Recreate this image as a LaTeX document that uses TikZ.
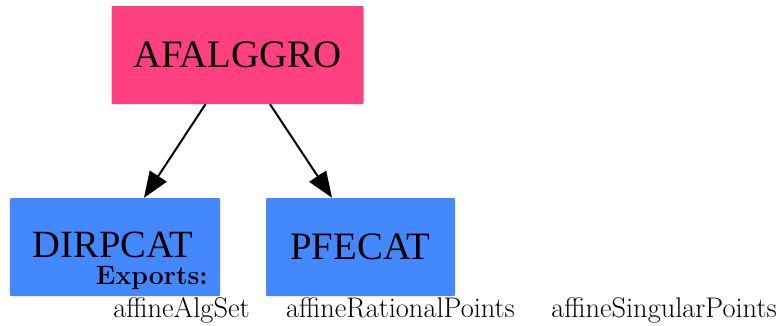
\documentclass[tikz,border=0pt]{standalone}
\usepackage{fontspec}
\newfontfamily\timesfont{Liberation Serif}
\usetikzlibrary{arrows.meta}
\definecolor{gvpink}{RGB}{255,64,128}
\definecolor{gvblue}{RGB}{68,136,255}
\tikzset{
  box/.style={draw=none, rounded corners=1bp, inner sep=0pt, font=\timesfont\fontsize{39}{46}\selectfont},
  pinkbox/.style={box, fill=gvpink},
  bluebox/.style={box, fill=gvblue},
  conn/.style={line width=2bp, -{Triangle[length=26bp,width=20bp]}},
  lbl/.style={inner sep=0pt, anchor=base, font=\fontsize{28.5}{33}\selectfont},
}
\begin{document}
\begin{tikzpicture}[x=1bp,y=-1bp]
\useasboundingbox (0,0) rectangle (783,325);
\node[pinkbox, minimum width=252bp, minimum height=98bp] (top) at (237.5,55) {AFALGGRO};
\node[bluebox, minimum width=210bp, minimum height=98bp] (dir) at (115,247) {};
\node[inner sep=0pt, anchor=base, text depth=0pt, font=\timesfont\fontsize{38.7}{46}\selectfont] (dirt) at (113,257.5) {DIRPCAT};
\node[bluebox, minimum width=189bp, minimum height=98bp] (pfe) at (360.5,247) {PFECAT};
\node[lbl, anchor=base east, text height=18bp, font=\bfseries\fontsize{26.7}{31}\selectfont] (exp) at (208,284) {Exports:};
\node[lbl] (e1) at (181.5,317) {affineAlgSet};
\node[lbl] (e2) at (400.5,317) {affineRationalPoints};
\node[lbl] (e3) at (664,317) {affineSingularPoints};
\draw[conn] ([xshift=-32bp]top.south) -- ([xshift=29bp]dir.north);
\draw[conn] ([xshift=32.5bp]top.south) -- ([xshift=-28.5bp]pfe.north);
\end{tikzpicture}
\end{document}
